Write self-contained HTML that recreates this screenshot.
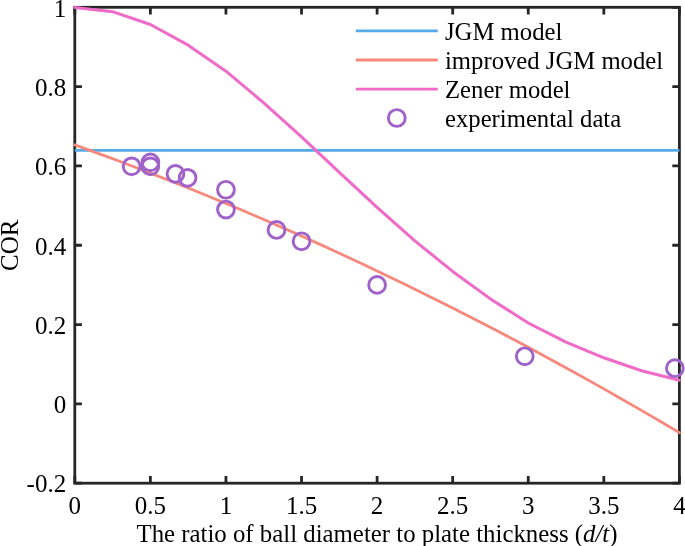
<!DOCTYPE html>
<html><head><meta charset="utf-8"><style>
html,body{margin:0;padding:0;background:#fff;width:685px;height:546px;overflow:hidden;font-family:"Liberation Serif",serif;}
svg{display:block;will-change:transform;}
</style></head><body>
<svg width="685" height="546" viewBox="0 0 685 546">
<rect width="685" height="546" fill="#fff"/>
<rect x="74.8" y="7.3" width="604.60" height="475.90" fill="none" stroke="#262626" stroke-width="2.8"/>
<path d="M74.80,483.20V476.10M74.80,7.30V14.40M150.38,483.20V476.10M150.38,7.30V14.40M225.95,483.20V476.10M225.95,7.30V14.40M301.53,483.20V476.10M301.53,7.30V14.40M377.10,483.20V476.10M377.10,7.30V14.40M452.68,483.20V476.10M452.68,7.30V14.40M528.25,483.20V476.10M528.25,7.30V14.40M603.82,483.20V476.10M603.82,7.30V14.40M679.40,483.20V476.10M679.40,7.30V14.40M74.80,483.20H81.90M679.40,483.20H672.30M74.80,403.88H81.90M679.40,403.88H672.30M74.80,324.57H81.90M679.40,324.57H672.30M74.80,245.25H81.90M679.40,245.25H672.30M74.80,165.93H81.90M679.40,165.93H672.30M74.80,86.62H81.90M679.40,86.62H672.30M74.80,7.30H81.90M679.40,7.30H672.30" stroke="#262626" stroke-width="2.8" fill="none"/>
<line x1="74.8" y1="150.45" x2="679.4" y2="150.45" stroke="#55AAE8" stroke-width="2.8"/>
<polyline points="74.80,144.93 89.91,150.38 105.03,155.92 120.15,161.55 135.26,167.27 150.38,173.08 165.49,178.98 180.61,184.97 195.72,191.05 210.83,197.21 225.95,203.47 241.06,209.82 256.18,216.25 271.30,222.77 286.41,229.39 301.53,236.09 316.64,242.88 331.76,249.76 346.87,256.73 361.99,263.79 377.10,270.94 392.22,278.18 407.33,285.50 422.45,292.92 437.56,300.43 452.68,308.02 467.79,315.71 482.91,323.48 498.02,331.34 513.14,339.29 528.25,347.34 543.37,355.47 558.48,363.69 573.60,372.00 588.71,380.39 603.82,388.88 618.94,397.46 634.05,406.13 649.17,414.88 664.29,423.73 679.40,432.66" fill="none" stroke="#F6887C" stroke-width="2.8" stroke-linejoin="round" stroke-linecap="round"/>
<polyline points="74.80,7.50 112.59,11.66 150.38,24.46 188.16,45.18 225.95,71.16 263.74,102.87 301.53,136.96 339.31,172.37 377.10,207.29 414.89,240.89 452.68,271.43 490.46,298.89 528.25,322.98 566.04,342.21 603.82,357.78 641.61,370.77 679.40,380.30" fill="none" stroke="#F06AC8" stroke-width="3.0" stroke-linejoin="round" stroke-linecap="round"/>
<circle cx="131.63" cy="166.33" r="8.4" fill="none" stroke="#A062C8" stroke-width="2.9"/>
<circle cx="150.38" cy="162.36" r="8.4" fill="none" stroke="#A062C8" stroke-width="2.9"/>
<circle cx="150.38" cy="166.33" r="8.4" fill="none" stroke="#A062C8" stroke-width="2.9"/>
<circle cx="175.47" cy="173.87" r="8.4" fill="none" stroke="#A062C8" stroke-width="2.9"/>
<circle cx="187.56" cy="177.83" r="8.4" fill="none" stroke="#A062C8" stroke-width="2.9"/>
<circle cx="225.95" cy="189.73" r="8.4" fill="none" stroke="#A062C8" stroke-width="2.9"/>
<circle cx="225.95" cy="209.56" r="8.4" fill="none" stroke="#A062C8" stroke-width="2.9"/>
<circle cx="276.51" cy="229.94" r="8.4" fill="none" stroke="#A062C8" stroke-width="2.9"/>
<circle cx="301.53" cy="241.28" r="8.4" fill="none" stroke="#A062C8" stroke-width="2.9"/>
<circle cx="377.10" cy="284.91" r="8.4" fill="none" stroke="#A062C8" stroke-width="2.9"/>
<circle cx="524.77" cy="356.29" r="8.4" fill="none" stroke="#A062C8" stroke-width="2.9"/>
<circle cx="674.87" cy="368.19" r="8.4" fill="none" stroke="#A062C8" stroke-width="2.9"/>
<g font-family="Liberation Serif" font-size="25" fill="#000">
<text x="74.80" y="514" text-anchor="middle">0</text>
<text x="150.38" y="514" text-anchor="middle">0.5</text>
<text x="225.95" y="514" text-anchor="middle">1</text>
<text x="301.53" y="514" text-anchor="middle">1.5</text>
<text x="377.10" y="514" text-anchor="middle">2</text>
<text x="452.68" y="514" text-anchor="middle">2.5</text>
<text x="528.25" y="514" text-anchor="middle">3</text>
<text x="603.82" y="514" text-anchor="middle">3.5</text>
<text x="679.40" y="514" text-anchor="middle">4</text>
<text x="66.2" y="492.00" text-anchor="end">-0.2</text>
<text x="66.2" y="413.38" text-anchor="end">0</text>
<text x="66.2" y="334.07" text-anchor="end">0.2</text>
<text x="66.2" y="254.75" text-anchor="end">0.4</text>
<text x="66.2" y="175.43" text-anchor="end">0.6</text>
<text x="66.2" y="96.12" text-anchor="end">0.8</text>
<text x="66.2" y="16.80" text-anchor="end">1</text>
<text x="377.0" y="541.6" text-anchor="middle" textLength="481" lengthAdjust="spacingAndGlyphs">The ratio of ball diameter to plate thickness (<tspan font-style="italic">d/t</tspan>)</text>
<text transform="translate(18,245.25) rotate(-90)" text-anchor="middle">COR</text>
</g>
<g font-family="Liberation Serif" font-size="25" fill="#000">
<line x1="355.8" y1="30.8" x2="437.8" y2="30.8" stroke="#55AAE8" stroke-width="2.8"/>
<text transform="translate(445,39.6) scale(0.988,1)">JGM model</text>
<line x1="355.8" y1="60.0" x2="437.8" y2="60.0" stroke="#F6887C" stroke-width="2.8"/>
<text transform="translate(445,68.6) scale(0.988,1)">improved JGM model</text>
<line x1="355.8" y1="89.1" x2="437.8" y2="89.1" stroke="#F06AC8" stroke-width="2.8"/>
<text transform="translate(445,97.8) scale(0.988,1)">Zener model</text>
<circle cx="396.8" cy="118" r="8.4" fill="none" stroke="#A062C8" stroke-width="2.9"/>
<text transform="translate(445,127.0) scale(0.988,1)">experimental data</text>
</g>
</svg>
</body></html>
